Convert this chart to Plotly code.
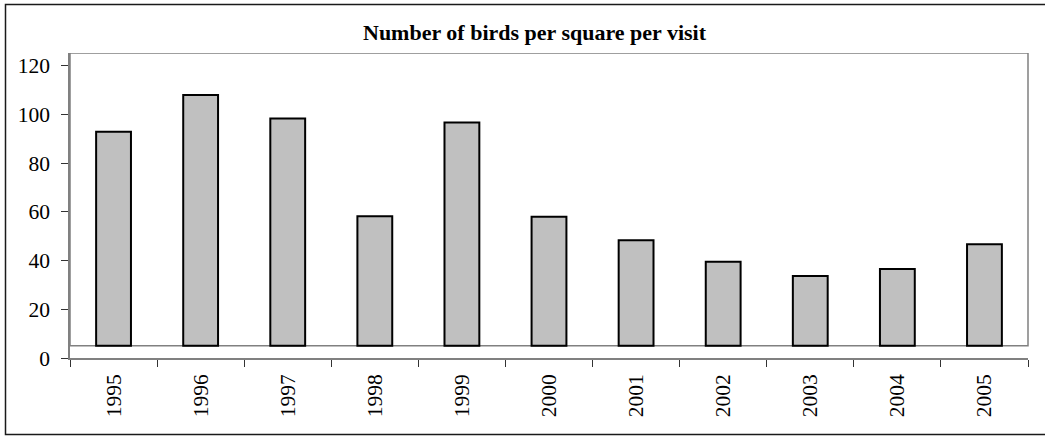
import plotly.graph_objects as go

# Survey results: mean number of birds per square per visit
years = ["1995", "1996", "1997", "1998", "1999", "2000",
         "2001", "2002", "2003", "2004", "2005"]
birds_per_visit = [92.9, 108.0, 98.4, 58.2, 96.7, 58.0,
                   48.4, 39.5, 33.7, 36.6, 46.7]
y_ticks = [0, 20, 40, 60, 80, 100, 120]

# value at which the category axis crosses; bars grow from here
AXIS_CROSS = 5
Y_MAX = 125.3

W, H = 1045, 436
PLOT_L, PLOT_R, PLOT_T, PLOT_B = 70, 1028, 53, 358
SERIF = "Liberation Serif"
GRID_GREY = "#808080"


def px_to_paper_x(px):
    return (px - PLOT_L) / (PLOT_R - PLOT_L)


def px_to_paper_y(py):
    return (PLOT_B - py) / (PLOT_B - PLOT_T)


fig = go.Figure(
    go.Bar(
        x=years,
        y=[v - AXIS_CROSS for v in birds_per_visit],
        base=AXIS_CROSS,
        marker=dict(color="#C0C0C0", line=dict(color="#000000", width=2)),
        customdata=birds_per_visit,
        hovertemplate="%{x}: %{customdata}<extra></extra>",
    )
)

fig.update_layout(
    width=W,
    height=H,
    margin=dict(l=PLOT_L, r=W - PLOT_R, t=PLOT_T, b=H - PLOT_B, pad=0),
    paper_bgcolor="white",
    plot_bgcolor="white",
    bargap=0.6,
    showlegend=False,
    font=dict(family=SERIF, size=21.5, color="black"),
)

fig.update_xaxes(
    type="category",
    range=[-0.5, len(years) - 0.5],
    showgrid=False,
    zeroline=False,
    showline=True,
    linecolor=GRID_GREY,
    linewidth=1.5,
    ticks="outside",
    tickson="boundaries",
    ticklen=7,
    tickwidth=1.2,
    tickcolor="#333333",
    tickangle=-90,
    ticklabelstandoff=6,
    tickfont=dict(family=SERIF, size=21.5, color="black"),
    automargin=False,
    fixedrange=True,
)

fig.update_yaxes(
    range=[0, Y_MAX],
    tickvals=y_ticks,
    ticktext=[str(t) for t in y_ticks],
    showgrid=False,
    zeroline=False,
    showline=True,
    linecolor=GRID_GREY,
    linewidth=1.5,
    ticks="outside",
    ticklen=7,
    tickwidth=1.2,
    tickcolor="#333333",
    ticklabelstandoff=7,
    tickfont=dict(family=SERIF, size=21.5, color="black"),
    automargin=False,
    fixedrange=True,
)

# Plot-area frame: top and right edges plus the floor at the axis crossing
fig.add_shape(
    type="rect",
    xref="paper", yref="y",
    x0=0, x1=1, y0=AXIS_CROSS, y1=Y_MAX,
    line=dict(color=GRID_GREY, width=1.5),
    layer="below",
)

# Chart-area border
fig.add_shape(
    type="rect",
    xref="paper", yref="paper",
    x0=px_to_paper_x(5.5), x1=px_to_paper_x(1070),
    y0=px_to_paper_y(434.5), y1=px_to_paper_y(4.5),
    line=dict(color="#1a1a1a", width=1.5),
    layer="above",
)

fig.add_annotation(
    text="<b>Number of birds per square per visit</b>",
    xref="paper", yref="paper",
    x=px_to_paper_x(534.5), y=px_to_paper_y(33),
    xanchor="center", yanchor="middle",
    showarrow=False,
    font=dict(family=SERIF, size=22, color="black"),
)

fig.write_html("out.html")
